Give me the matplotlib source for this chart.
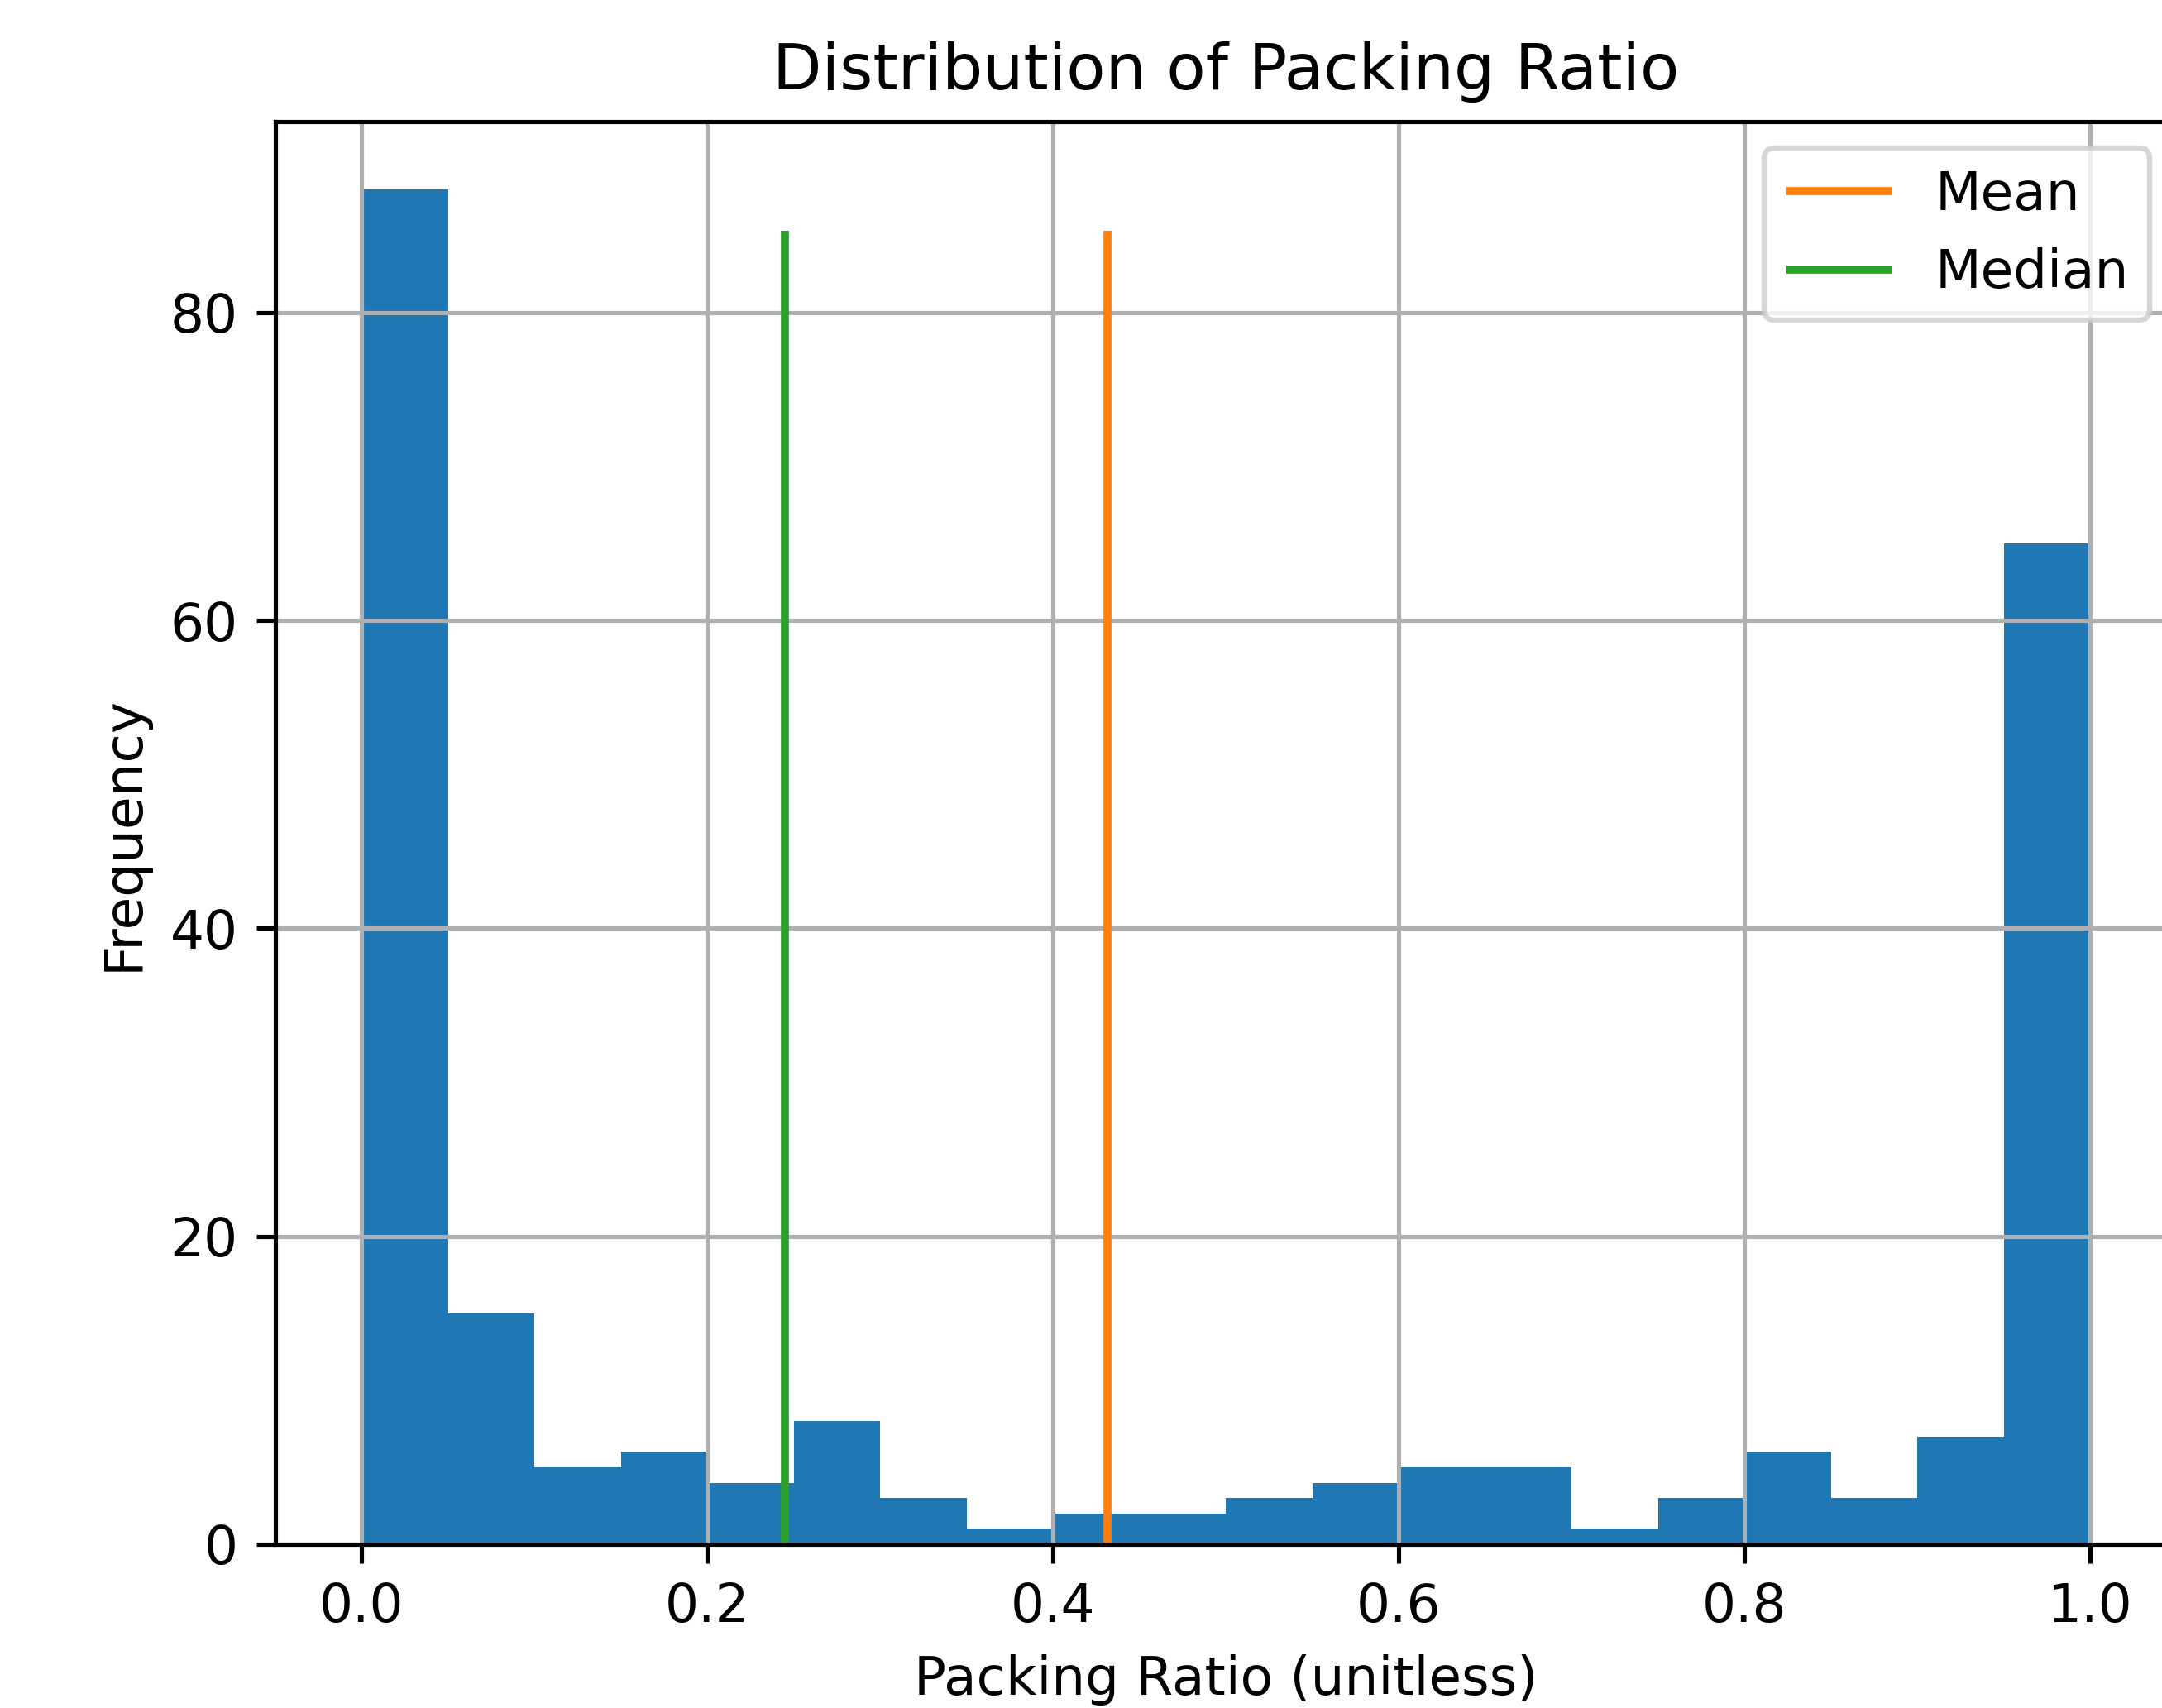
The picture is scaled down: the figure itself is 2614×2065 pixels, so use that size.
import numpy as np
import matplotlib
matplotlib.use("Agg")
from matplotlib import pyplot as plt

# Histogram of packing ratio, 20 bins over [0, 1]
bin_edges = np.linspace(0.0, 1.0, 21)
counts = [88, 15, 5, 6, 4, 8, 3, 1, 2, 2, 3, 4, 5, 5, 1, 3, 6, 3, 7, 65]

# Summary stats drawn as vertical lines
mean_ratio = 0.4317
median_ratio = 0.2451
line_top = 85.3

# Figure is 2614x2065 px; axes placed in pixel terms then converted
dpi = 464
W, H = 2614, 2065
fig = plt.figure(figsize=(W / dpi, H / dpi), dpi=dpi)
ax_left, ax_right = 332.5, 2631.5
ax_top, ax_bottom = 147, 1867
ax = fig.add_axes([ax_left / W, (H - ax_bottom) / H,
                   (ax_right - ax_left) / W, (ax_bottom - ax_top) / H])

ax.hist(bin_edges[:-1], bins=bin_edges, weights=counts)
ax.vlines(mean_ratio, 0, line_top, colors="C1", label="Mean")
ax.vlines(median_ratio, 0, line_top, colors="C2", label="Median")

ax.grid(True)
ax.set_title("Distribution of Packing Ratio")
ax.set_xlabel("Packing Ratio (unitless)")
ax.set_ylabel("Frequency")
ax.legend(loc="upper right")

fig.savefig("out.png", dpi=dpi)
